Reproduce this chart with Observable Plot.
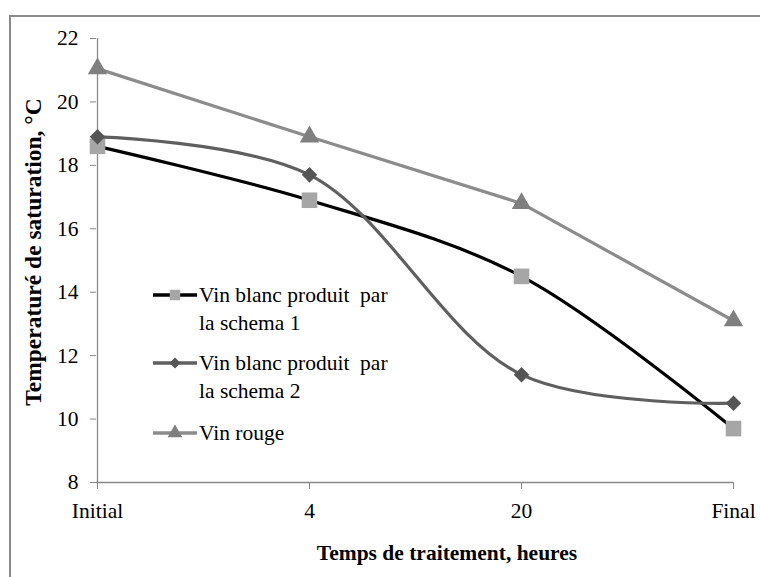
<!DOCTYPE html>
<html>
<head>
<meta charset="utf-8">
<script src="https://cdn.jsdelivr.net/npm/d3@7"></script>
<script src="https://cdn.jsdelivr.net/npm/@observablehq/plot@0.6"></script>
<style>
  body { margin: 0; background: #fff; }
  #wrap { position: relative; width: 760px; height: 577px; overflow: hidden; font-family: "Liberation Serif", "Tinos", "Times New Roman", "Noto Serif", "DejaVu Serif", serif; background: #fff; }
  #border { position: absolute; left: 9px; top: 15px; width: 800px; height: 700px; border-left: 2px solid #8a8a8a; border-top: 2px solid #8a8a8a; }
  #chart { position: absolute; left: 0; top: 0; }
  #legend { position: absolute; left: 0; top: 0; }
  .lg-item { position: absolute; font-size: 21.5px; line-height: 28px; color: #000; white-space: pre; }
  .lg-sym { position: absolute; }
  .title { position: absolute; font-weight: bold; color: #000; white-space: nowrap; text-align: center; }
  #xtitle { left: 247px; top: 541px; width: 400px; font-size: 21.5px; line-height: 24px; }
  #ytitle { left: -167px; top: 240px; width: 400px; font-size: 23.5px; line-height: 24px; transform: rotate(-90deg); }
</style>
</head>
<body>
<div id="wrap">
  <div id="border"></div>
  <div id="chart"></div>
  <div id="legend"></div>
  <div class="title" id="xtitle"></div>
  <div class="title" id="ytitle"></div>
</div>
<script>
// ---- data ----
const categories = ["Initial", "4", "20", "Final"];
const schema1 = [18.6, 16.9, 14.5, 9.7];
const schema2 = [18.9, 17.7, 11.4, 10.5];
const rouge = [21.05, 18.9, 16.8, 13.1];
const seriesNames = ["Vin blanc produit  par\nla schema 1", "Vin blanc produit  par\nla schema 2", "Vin rouge"];
const yTicks = [8, 10, 12, 14, 16, 18, 20, 22];
const xTitle = "Temps de traitement, heures";
const yTitle = "Temperaturé de saturation, °C";

const fontStack = "'Liberation Serif', 'Tinos', 'Times New Roman', 'Noto Serif', 'DejaVu Serif', serif";

// ---- styles per series ----
const styles = [
  { line: "#000000", fill: "#a6a6a6", symbol: "square", r: 8.8, curve: "catmull-rom" },
  { line: "#5f5f5f", fill: "#555555", symbol: "diamond2", r: 7, curve: "catmull-rom" },
  { line: "#8c8c8c", fill: "#7f7f7f", symbol: "triangle", r: 7.2, curve: "linear" }
];
const seriesValues = [schema1, schema2, rouge];
const tables = seriesValues.map(vals => categories.map((c, i) => ({ cat: c, v: vals[i] })));

const marks = [
  Plot.ruleY([8], { stroke: "#888", strokeWidth: 1.3 }),
  Plot.ruleX([categories[0]], { stroke: "#888", strokeWidth: 1.3 }),
  Plot.axisY({ ticks: yTicks, tickSize: 6, tickPadding: 12, fontSize: 21.5, label: null, stroke: "#888" }),
  Plot.axisX({ tickSize: 7, tickPadding: 13, fontSize: 21.5, label: null, stroke: "#888" })
];
tables.forEach((t, k) => {
  const s = styles[k];
  marks.push(Plot.line(t, { x: "cat", y: "v", stroke: s.line, strokeWidth: 3.2, curve: s.curve }));
  marks.push(Plot.dot(t, { x: "cat", y: "v", symbol: () => s.symbol, fill: s.fill, stroke: "none", r: s.r }));
});

const chart = Plot.plot({
  width: 760,
  height: 577,
  marginLeft: 96,
  marginRight: 27,
  marginTop: 38,
  marginBottom: 95,
  style: { fontFamily: fontStack, fontSize: "21.5px", background: "transparent", color: "#000" },
  x: { type: "point", domain: categories, padding: 0 },
  y: { domain: [8, 22] },
  marks
});
document.getElementById("chart").appendChild(chart);

document.getElementById("xtitle").textContent = xTitle;
document.getElementById("ytitle").textContent = yTitle;

// ---- legend (HTML overlay) ----
const legend = document.getElementById("legend");
const legendTops = [281, 349, 419];
const symMap = { square: d3.symbolSquare, diamond2: d3.symbolDiamond2, triangle: d3.symbolTriangle };
seriesNames.forEach((name, k) => {
  const s = styles[k];
  const top = legendTops[k];
  const sym = document.createElementNS("http://www.w3.org/2000/svg", "svg");
  sym.setAttribute("width", 48); sym.setAttribute("height", 28);
  sym.setAttribute("class", "lg-sym");
  sym.style.left = "151px"; sym.style.top = top + "px";
  const ln = document.createElementNS("http://www.w3.org/2000/svg", "line");
  ln.setAttribute("x1", 2); ln.setAttribute("x2", 46); ln.setAttribute("y1", 14); ln.setAttribute("y2", 14);
  ln.setAttribute("stroke", s.line); ln.setAttribute("stroke-width", 3.5);
  sym.appendChild(ln);
  const p = document.createElementNS("http://www.w3.org/2000/svg", "path");
  const size = s.symbol === "square" ? 110 : s.symbol === "diamond2" ? 80 : 95;
  p.setAttribute("d", d3.symbol(symMap[s.symbol], size)());
  p.setAttribute("transform", "translate(24,14)");
  p.setAttribute("fill", s.fill);
  sym.appendChild(p);
  legend.appendChild(sym);
  const txt = document.createElement("div");
  txt.className = "lg-item";
  txt.style.left = "199px"; txt.style.top = top + "px";
  txt.textContent = name;
  legend.appendChild(txt);
});
</script>
</body>
</html>
